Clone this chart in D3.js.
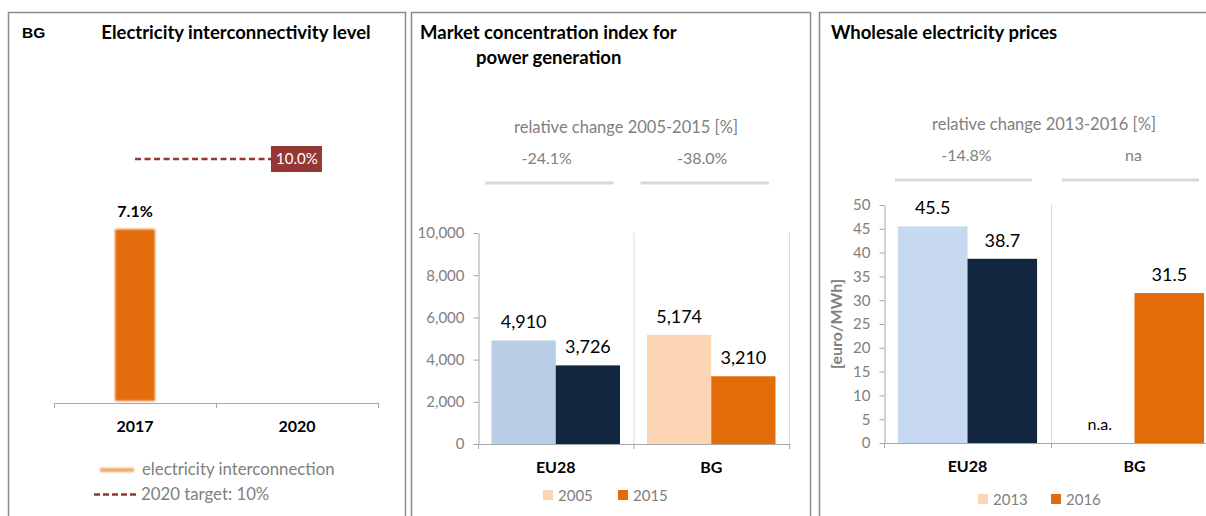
<!DOCTYPE html>
<html>
<head>
<meta charset="utf-8">
<script src="https://cdn.jsdelivr.net/npm/d3@7"></script>
<style>
  body { margin: 0; background: #fff; }
  text { font-family: Lato, "Open Sans", sans-serif; }
</style>
</head>
<body>
<div id="chart-area"></div>
<script>
// Panel 1 - interconnectivity
let interYears = ["2017", "2020"];
let interValues = [7.1, null];
let interTarget = 10;

// Panel 2 - market concentration (HHI)
let hhiGroups = ["EU28", "BG"];
let hhiYears = ["2005", "2015"];
let hhi2005 = [4910, 5174];
let hhi2015 = [3726, 3210];
let hhiChange = ["-24.1%", "-38.0%"];
let hhiTicks = [0, 2000, 4000, 6000, 8000, 10000];

// Panel 3 - wholesale prices
let priceGroups = ["EU28", "BG"];
let priceYears = ["2013", "2016"];
let price2013 = [45.5, null];
let price2016 = [38.7, 31.5];
let priceChange = ["-14.8%", "na"];
let priceTicks = [0, 5, 10, 15, 20, 25, 30, 35, 40, 45, 50];

let width = 1206,
	height = 516;

let grey = "#808080",
	axisGrey = "#a6a6a6",
	darkRed = "#953735";

let svg = d3.select("#chart-area").append("svg")
	.attr("width", width)
	.attr("height", height);

let defs = svg.append("defs");
defs.append("filter").attr("id", "soft")
	.attr("filterUnits", "userSpaceOnUse")
	.attr("x", 0).attr("y", 0).attr("width", width).attr("height", height)
	.append("feGaussianBlur").attr("stdDeviation", 0.9);

// Panel frames
[[8, 405], [411, 810], [819, 1220]].forEach(p => {
	svg.append("rect")
		.attr("x", p[0] + 0.5).attr("y", 12.5)
		.attr("width", p[1] - p[0]).attr("height", 520)
		.attr("fill", "none")
		.attr("stroke", "#8c8c8c")
		.attr("stroke-width", 1.5);
});

// ---------- Panel 1 ----------
let p1 = svg.append("g");

p1.append("text")
	.attr("x", 22).attr("y", 38)
	.style("font-family", "'Liberation Sans', Arial, sans-serif")
	.style("font-weight", "bold").style("font-size", "15.5px")
	.text("BG");

p1.append("text")
	.attr("x", 236).attr("y", 39)
	.attr("text-anchor", "middle")
	.style("font-weight", "bold").style("font-size", "18.5px")
	.text("Electricity interconnectivity level");

let x1 = d3.scaleBand()
	.domain(interYears)
	.range([54, 378])
	.paddingInner(0.753)
	.paddingOuter(0.377);

let y1 = d3.scaleLinear()
	.domain([0, 10])
	.range([401, 159]);

// axis baseline with ticks at band edges
let edges1 = [x1.range()[0], (x1(interYears[0]) + x1(interYears[1]) + x1.bandwidth()) / 2, x1.range()[1]];
p1.append("line")
	.attr("x1", 54).attr("x2", 378)
	.attr("y1", 403.5).attr("y2", 403.5)
	.attr("stroke", axisGrey);
p1.selectAll(".tk").data(edges1).enter().append("line")
	.attr("x1", d => d + 0.5).attr("x2", d => d + 0.5)
	.attr("y1", 403).attr("y2", 408)
	.attr("stroke", axisGrey);

let interRows = interValues.map((v, i) => ({year: interYears[i], v: v})).filter(d => d.v != null);

p1.selectAll(".bar").data(interRows)
	.enter().append("rect")
	.attr("x", d => x1(d.year))
	.attr("width", x1.bandwidth())
	.attr("y", d => y1(d.v))
	.attr("height", d => y1(0) - y1(d.v))
	.attr("fill", "#e36c0a")
	.attr("filter", "url(#soft)");

p1.selectAll(".lbl").data(interRows)
	.enter().append("text")
	.attr("x", d => x1(d.year) + x1.bandwidth() / 2)
	.attr("y", d => y1(d.v) - 12)
	.attr("text-anchor", "middle")
	.style("font-weight", "bold").style("font-size", "16px")
	.text(d => d.v.toFixed(1) + "%");

p1.selectAll(".cat").data(interYears).enter().append("text")
	.attr("x", d => x1(d) + x1.bandwidth() / 2)
	.attr("y", 432)
	.attr("text-anchor", "middle")
	.style("font-weight", "bold").style("font-size", "16px")
	.text(d => d);

// target line
let tx0 = x1(interYears[0]) + x1.bandwidth() / 2,
	tx1 = x1(interYears[1]) + x1.bandwidth() / 2;
p1.append("line")
	.attr("x1", tx0).attr("x2", tx1 - 25)
	.attr("y1", y1(interTarget)).attr("y2", y1(interTarget))
	.attr("stroke", darkRed).attr("stroke-width", 2.5)
	.attr("stroke-dasharray", "6,3.5");
p1.append("rect")
	.attr("x", tx1 - 26).attr("y", y1(interTarget) - 13)
	.attr("width", 51).attr("height", 26)
	.attr("fill", darkRed);
p1.append("text")
	.attr("x", tx1).attr("y", y1(interTarget) + 5)
	.attr("text-anchor", "middle")
	.attr("fill", "#fff")
	.style("font-size", "15px")
	.text(interTarget.toFixed(1) + "%");

// legend
p1.append("rect")
	.attr("x", 100).attr("y", 468).attr("width", 34).attr("height", 4)
	.attr("fill", "#f2a462")
	.attr("filter", "url(#soft)");
p1.append("text")
	.attr("x", 142).attr("y", 475)
	.attr("fill", grey).style("font-size", "16.8px")
	.text("electricity interconnection");
p1.append("line")
	.attr("x1", 94).attr("x2", 139).attr("y1", 494.5).attr("y2", 494.5)
	.attr("stroke", darkRed).attr("stroke-width", 2.5)
	.attr("stroke-dasharray", "6,3");
p1.append("text")
	.attr("x", 141).attr("y", 500)
	.attr("fill", grey).style("font-size", "16.8px")
	.text("2020 target: " + interTarget + "%");

// ---------- grouped bar panel ----------
function groupedPanel(cfg) {
	let g = svg.append("g");

	cfg.title.forEach((t, i) => {
		g.append("text")
			.attr("x", cfg.titleX[i]).attr("y", 39 + i * 25)
			.style("font-weight", "bold").style("font-size", "18.5px")
			.text(t);
	});

	let x = d3.scaleBand()
		.domain(cfg.groups)
		.range([cfg.left, cfg.left + cfg.band * cfg.groups.length]);

	let xi = d3.scaleBand()
		.domain(cfg.years)
		.range([0, cfg.band])
		.paddingOuter(cfg.pad);

	let y = d3.scaleLinear()
		.domain([0, cfg.max])
		.range([cfg.bottom, cfg.top]);

	// relative change header
	g.append("text")
		.attr("x", cfg.changeX)
		.attr("y", cfg.changeY)
		.attr("text-anchor", "middle")
		.attr("fill", grey).style("font-size", "16.5px")
		.text(cfg.changeTitle);

	cfg.groups.forEach((grp, i) => {
		g.append("text")
			.attr("x", x(grp) + cfg.band / 2 + cfg.changeShift)
			.attr("y", cfg.changeY + 31)
			.attr("text-anchor", "middle")
			.attr("fill", grey).style("font-size", "16px")
			.text(cfg.change[i]);
		g.append("line")
			.attr("x1", x(grp) + cfg.lineInset[0]).attr("x2", x(grp) + cfg.band - cfg.lineInset[1])
			.attr("y1", cfg.changeY + 50).attr("y2", cfg.changeY + 50)
			.attr("stroke", "#d9d9d9").attr("stroke-width", 3);
	});

	// separators
	cfg.groups.slice(1).concat([null]).forEach(grp => {
		let xx = grp ? x(grp) : x.range()[1];
		g.append("line")
			.attr("x1", xx + 0.5).attr("x2", xx + 0.5)
			.attr("y1", cfg.top).attr("y2", cfg.bottom)
			.attr("stroke", "#d9d9d9");
	});

	// y axis
	let yAxis = d3.axisLeft(y)
		.tickValues(cfg.ticks)
		.tickFormat(cfg.fmt)
		.tickSize(5)
		.tickSizeOuter(0)
		.tickPadding(9);
	let ya = g.append("g")
		.attr("transform", "translate(" + (cfg.left + 0.5) + ",0)")
		.call(yAxis);
	ya.select(".domain").attr("stroke", axisGrey);
	ya.selectAll(".tick line").attr("stroke", axisGrey);
	ya.selectAll(".tick text")
		.attr("fill", grey)
		.style("font-family", "Lato, sans-serif")
		.style("font-size", "15px");

	// x baseline with ticks at band edges
	let edges = cfg.groups.map(d => x(d)).concat([x.range()[1]]);
	g.append("line")
		.attr("x1", cfg.left).attr("x2", x.range()[1])
		.attr("y1", cfg.bottom + 0.5).attr("y2", cfg.bottom + 0.5)
		.attr("stroke", axisGrey);
	g.selectAll(".etk").data(edges).enter().append("line")
		.attr("x1", d => d + 0.5).attr("x2", d => d + 0.5)
		.attr("y1", cfg.bottom).attr("y2", cfg.bottom + 5)
		.attr("stroke", axisGrey);

	// bars
	let rows = [];
	cfg.groups.forEach((grp, i) => {
		cfg.series.forEach((s, j) => {
			rows.push({grp: grp, year: cfg.years[j], v: s[i], color: cfg.colors[i][j]});
		});
	});

	g.selectAll(".bar").data(rows.filter(d => d.v != null)).enter().append("rect")
		.attr("x", d => x(d.grp) + xi(d.year))
		.attr("width", xi.bandwidth())
		.attr("y", d => y(d.v))
		.attr("height", d => y(0) - y(d.v))
		.attr("fill", d => d.color);

	g.selectAll(".val").data(rows).enter().append("text")
		.attr("x", d => x(d.grp) + xi(d.year) + xi.bandwidth() / 2)
		.attr("y", d => d.v == null ? cfg.bottom - 13 : y(d.v) - 12)
		.attr("text-anchor", "middle")
		.style("font-size", d => d.v == null ? "16px" : "18px")
		.text(d => d.v == null ? "n.a." : cfg.valFmt(d.v));

	g.selectAll(".cat").data(cfg.groups).enter().append("text")
		.attr("x", d => x(d) + cfg.band / 2)
		.attr("y", cfg.bottom + 29)
		.attr("text-anchor", "middle")
		.style("font-weight", "bold").style("font-size", "16px")
		.text(d => d);

	// legend
	cfg.years.forEach((yr, j) => {
		let lx = cfg.legendX[j];
		g.append("rect")
			.attr("x", lx).attr("y", cfg.legendY - 10)
			.attr("width", 10).attr("height", 10)
			.attr("fill", cfg.legendColors[j]);
		g.append("text")
			.attr("x", lx + 15).attr("y", cfg.legendY + 1)
			.attr("fill", grey).style("font-size", "15px")
			.text(yr);
	});

	if (cfg.yLabel) {
		g.append("text")
			.attr("transform", "translate(" + cfg.yLabelX + "," + ((cfg.top + cfg.bottom) / 2) + ") rotate(-90)")
			.attr("text-anchor", "middle")
			.attr("fill", grey)
			.style("font-weight", "bold").style("font-size", "16px")
			.text(cfg.yLabel);
	}
	return g;
}

groupedPanel({
	title: ["Market concentration index for", "power generation"],
	titleX: [420, 476],
	groups: hhiGroups,
	years: hhiYears,
	series: [hhi2005, hhi2015],
	colors: [["#b9cde5", "#12263f"], ["#fcd5b5", "#e36c0a"]],
	legendColors: ["#fcd5b5", "#e36c0a"],
	legendX: [543, 618],
	legendY: 500,
	left: 478,
	band: 155.5,
	pad: 0.21,
	top: 233,
	bottom: 444,
	max: 10000,
	ticks: hhiTicks,
	fmt: d3.format(","),
	valFmt: d3.format(","),
	changeTitle: "relative change 2005-2015 [%]",
	changeX: 626,
	change: hhiChange,
	changeY: 133,
	changeShift: -9,
	lineInset: [7, 20]
});

groupedPanel({
	title: ["Wholesale electricity prices"],
	titleX: [831],
	groups: priceGroups,
	years: priceYears,
	series: [price2013, price2016],
	colors: [["#c6d9f1", "#12263f"], ["#fcd5b5", "#e36c0a"]],
	legendColors: ["#fcd5b5", "#e36c0a"],
	legendX: [978, 1051],
	legendY: 504,
	left: 884,
	band: 167,
	pad: 0.2,
	top: 205,
	bottom: 443,
	max: 50,
	ticks: priceTicks,
	fmt: d3.format("d"),
	valFmt: d3.format(".1f"),
	changeTitle: "relative change 2013-2016 [%]",
	changeX: 1044,
	change: priceChange,
	changeY: 130,
	changeShift: -1,
	lineInset: [11, 19],
	yLabel: "[euro/MWh]",
	yLabelX: 842
});
</script>
</body>
</html>
